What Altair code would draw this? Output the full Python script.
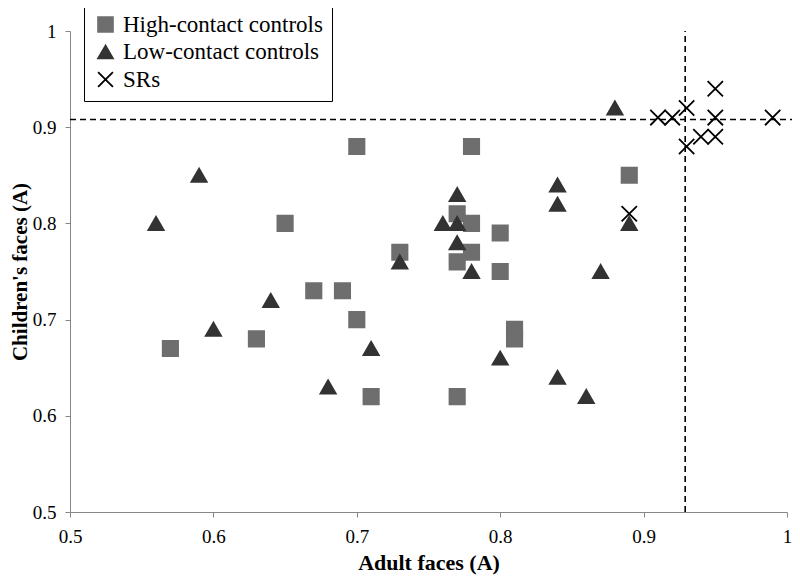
import altair as alt
import pandas as pd

# ---- data ----
groups = ["High-contact controls", "Low-contact controls", "SRs"]

hc_adult = [0.57, 0.63, 0.65, 0.67, 0.69, 0.70, 0.70, 0.71, 0.73, 0.77, 0.77, 0.77,
            0.78, 0.78, 0.78, 0.80, 0.80, 0.81, 0.81, 0.89]
hc_child = [0.67, 0.68, 0.80, 0.73, 0.73, 0.70, 0.88, 0.62, 0.77, 0.81, 0.76, 0.62,
            0.88, 0.80, 0.77, 0.79, 0.75, 0.69, 0.68, 0.85]

lc_adult = [0.56, 0.59, 0.60, 0.64, 0.68, 0.71, 0.73, 0.76, 0.77, 0.77, 0.77, 0.78,
            0.80, 0.84, 0.84, 0.84, 0.86, 0.87, 0.88, 0.89]
lc_child = [0.80, 0.85, 0.69, 0.72, 0.63, 0.67, 0.76, 0.80, 0.83, 0.80, 0.78, 0.75,
            0.66, 0.84, 0.82, 0.64, 0.62, 0.75, 0.92, 0.80]

sr_adult = [0.91, 0.92, 0.93, 0.93, 0.94, 0.95, 0.95, 0.95, 0.99, 0.89]
sr_child = [0.91, 0.91, 0.92, 0.88, 0.89, 0.89, 0.94, 0.91, 0.91, 0.81]

cutoff_adult = 0.929
cutoff_child = 0.908

tick_values = [0.5, 0.6, 0.7, 0.8, 0.9, 1.0]

# ---- tables ----
rows = []
for g, xs, ys in [(groups[0], hc_adult, hc_child),
                  (groups[1], lc_adult, lc_child),
                  (groups[2], sr_adult, sr_child)]:
    for a, c in zip(xs, ys):
        rows.append({"adult": a, "child": c, "group": g})
df = pd.DataFrame(rows)

hline_df = pd.DataFrame({"x": [0.5], "x2": [1.012], "y": [cutoff_child]})
vline_df = pd.DataFrame({"x": [cutoff_adult], "y": [0.5], "y2": [1.0]})

FONT = "Liberation Serif, Times New Roman, DejaVu Serif, serif"
xpath = "M-1,-1L1,1M-1,1L1,-1"
colors = ["#6e6e6e", "#333333", "#000000"]

xscale = alt.Scale(domain=[0.5, 1.0], nice=False, zero=False)
yscale = alt.Scale(domain=[0.5, 1.0], nice=False, zero=False)

common_axis = dict(
    values=tick_values, format="~g", grid=False,
    labelFont=FONT, labelFontSize=19, labelColor="black", labelFlush=False,
    titleFont=FONT, titleFontWeight="bold", titleColor="black",
    domainColor="#868686", tickColor="#868686", tickSize=5,
)

hline = alt.Chart(hline_df).mark_rule(
    color="black", strokeWidth=1.6, strokeDash=[6, 4], clip=False
).encode(
    x=alt.X("x:Q", scale=xscale),
    x2="x2:Q",
    y=alt.Y("y:Q", scale=yscale),
)

vline = alt.Chart(vline_df).mark_rule(
    color="black", strokeWidth=1.6, strokeDash=[6, 4]
).encode(
    x=alt.X("x:Q", scale=xscale),
    y=alt.Y("y:Q", scale=yscale),
    y2="y2:Q",
)

legend = alt.Legend(
    title=None, orient="none", legendX=14, legendY=-27, direction="vertical",
    labelFont=FONT, labelFontSize=23, labelColor="black", labelLimit=400,
    symbolSize=220, symbolStrokeWidth=1.8,
    strokeColor="black", fillColor="white", padding=9,
    rowPadding=3.5, labelOffset=6, symbolOffset=1,
)

points = alt.Chart(df).mark_point(filled=True, size=235, strokeWidth=1.8, opacity=1).encode(
    x=alt.X("adult:Q", scale=xscale,
            axis=alt.Axis(title="Adult faces (A)", titleFontSize=22, titlePadding=6,
                          labelPadding=10, **common_axis)),
    y=alt.Y("child:Q", scale=yscale,
            axis=alt.Axis(title="Children's faces (A)", titleFontSize=21, titlePadding=2,
                          labelPadding=9, **common_axis)),
    color=alt.Color("group:N", scale=alt.Scale(domain=groups, range=colors), legend=legend),
    stroke=alt.Stroke("group:N", scale=alt.Scale(domain=groups, range=colors), legend=legend),
    shape=alt.Shape("group:N", scale=alt.Scale(domain=groups, range=["square", "triangle-up", xpath]),
                    legend=legend),
    order=alt.Order("idx:Q"),
).transform_window(idx="row_number()")

chart = alt.layer(hline, vline, points).properties(
    width=717, height=481,
    autosize=alt.AutoSizeParams(type="none"),
    padding={"left": 62, "top": 23, "right": 5, "bottom": 66},
    background="white",
).configure_view(stroke=None)

chart.save("out.html", embed_options={"renderer": "svg", "actions": False})
